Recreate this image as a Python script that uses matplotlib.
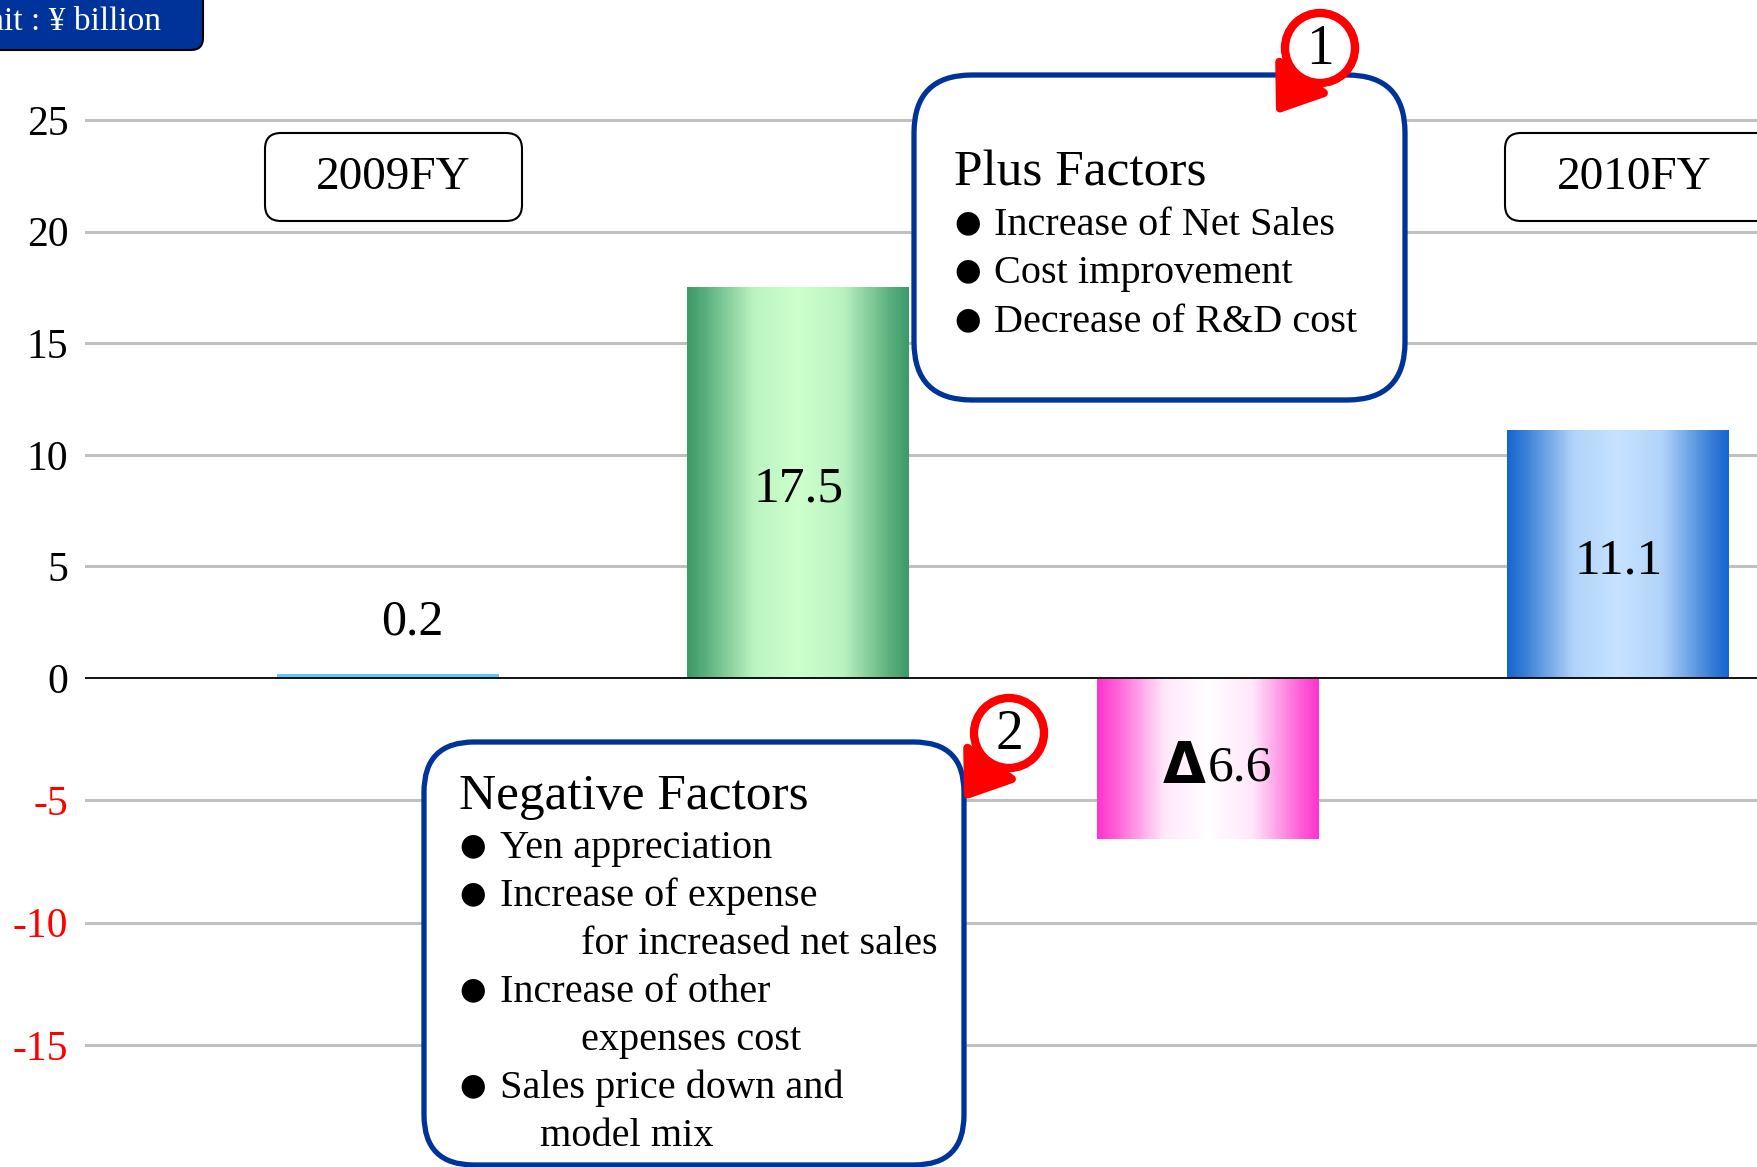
import numpy as np
import matplotlib
matplotlib.use('Agg')
import matplotlib.pyplot as plt
from matplotlib.patches import FancyBboxPatch, Circle

plt.rcParams['font.family'] = ['Liberation Serif', 'DejaVu Sans']

# data
categories = ["2009FY", "Plus Factors", "Negative Factors", "2010FY"]
values = [0.2, 17.5, -6.6, 11.1]
yticks = [-15, -10, -5, 0, 5, 10, 15, 20, 25]
plus_items = ["Increase of Net Sales", "Cost improvement", "Decrease of R&D cost"]
negative_lines = [
    ("●", "Yen appreciation"),
    ("●", "Increase of expense"),
    ("", "for increased net sales"),
    ("●", "Increase of other"),
    ("", "expenses cost"),
    ("●", "Sales price down and"),
    ("", "model mix"),
]

# bar fills: (edge colour, centre colour) -- None means flat
fills = [("#5EC8F8", None), ("#3A9A68", "#CCFFCC"), ("#FF33CC", "#FFFFFF"), ("#1565CC", "#C6E2FF")]

# the negative half of the original axis is drawn a little taller
NEG = 1.096


def fwd(v):
    v = np.asarray(v, dtype=float)
    return np.where(v < 0, v * NEG, v)


def inv(u):
    u = np.asarray(u, dtype=float)
    return np.where(u < 0, u / NEG, u)


W, H = 1758, 1167
fig = plt.figure(figsize=(W / 100, H / 100), dpi=100)
ax = fig.add_axes([85 / W, 0, 1 - 85 / W, 1])
ax.set_yscale('function', functions=(fwd, inv))

for y in yticks:
    if y != 0:
        ax.axhline(y, color='#C0C0C0', lw=2.2, zorder=0)
ax.axhline(0, color='black', lw=1.3, zorder=4)


def hex2rgb(h):
    return np.array([int(h[i:i + 2], 16) for i in (1, 3, 5)]) / 255.0


x = np.arange(len(values))
width = 0.54
nslice = 120
for xi, v, (edge, centre) in zip(x, values, fills):
    if centre is None:
        ax.bar(xi, v, width=width, color=edge, edgecolor='none', zorder=2)
        continue
    t = (np.arange(nslice) + 0.5) / nslice
    mix = np.interp(t, [0, 0.08, 0.3, 0.5, 0.7, 0.92, 1], [0, 0.2, 0.88, 1, 0.88, 0.2, 0])
    c0, c1 = hex2rgb(edge), hex2rgb(centre)
    cols = c0[None, :] * (1 - mix[:, None]) + c1[None, :] * mix[:, None]
    left = xi - width / 2 + t * width
    ax.bar(left, np.full(nslice, v), width=width / nslice * 1.05, color=cols,
           edgecolor='none', linewidth=0, zorder=2)

for xi, v in zip(x, values):
    if abs(v) < 2:
        ax.annotate(f"{v:.1f}", (xi + 0.06, v), xytext=(0, 28), textcoords='offset points',
                    ha='center', va='baseline', fontsize=36, zorder=5)
    elif v > 0:
        ax.annotate(f"{v:.1f}", (xi, v / 2), xytext=(0, -5), textcoords='offset points',
                    ha='center', va='center', fontsize=37, zorder=5)
    else:
        ax.annotate("Δ", (xi, v / 2), xytext=(-2, -7), textcoords='offset points',
                    ha='right', va='center', fontsize=40, family='DejaVu Sans',
                    weight='bold', zorder=5)
        ax.annotate(f"{-v:.1f}", (xi, v / 2), xytext=(0, -7), textcoords='offset points',
                    ha='left', va='center', fontsize=37, zorder=5)

ax.set_xlim(-0.739, 3.341)
ax.set_ylim(-19.99, 30.38)
ax.set_yticks(yticks)
ax.set_yticklabels([str(t) for t in yticks], fontsize=30)
ax.minorticks_off()
for lab, t in zip(ax.get_yticklabels(), yticks):
    lab.set_color('red' if t < 0 else 'black')
ax.tick_params(axis='y', length=0, pad=12)
ax.set_xticks([])
for s in ax.spines.values():
    s.set_visible(False)

# overlay in pixel coordinates for the callout boxes
ov = fig.add_axes([0, 0, 1, 1])
ov.set_xlim(0, W)
ov.set_ylim(H, 0)
ov.axis('off')
ov.patch.set_alpha(0)

# unit box
ov.add_patch(FancyBboxPatch((-30, -30), 233, 80, boxstyle='round,pad=0,rounding_size=12',
                            fc='#003399', ec='black', lw=1.5))
ov.text(161, 30, "Unit : ¥ billion", ha='right', va='baseline', color='white', fontsize=24)

# year boxes
for (bx, bw, tx), name in zip([(265, 257, 393), (1505, 300, 1634)], [categories[0], categories[3]]):
    ov.add_patch(FancyBboxPatch((bx, 133), bw, 88, boxstyle='round,pad=0,rounding_size=16',
                                fc='white', ec='black', lw=1.5))
    ov.text(tx, 178, name, ha='center', va='center', fontsize=34)

# plus factors box
ov.add_patch(FancyBboxPatch((914, 75), 491, 325, boxstyle='round,pad=0,rounding_size=58',
                            fc='white', ec='#003399', lw=3.8))
ov.text(954, 185, categories[1], ha='left', va='baseline', fontsize=37)
for i, item in enumerate(plus_items):
    yb = 235 + i * 48.5
    ov.text(954, yb - 4, "●", ha='left', va='baseline', fontsize=22, family='DejaVu Sans')
    ov.text(994, yb, item, ha='left', va='baseline', fontsize=29)

# negative factors box
ov.add_patch(FancyBboxPatch((424, 742), 540, 423, boxstyle='round,pad=0,rounding_size=50',
                            fc='white', ec='#003399', lw=3.8))
ov.text(459, 809, categories[2], ha='left', va='baseline', fontsize=37)
indent = {"for increased net sales": 581, "expenses cost": 581, "model mix": 540}
for i, (bul, txt) in enumerate(negative_lines):
    yb = 858 + i * 48
    if bul:
        ov.text(459, yb - 4, bul, ha='left', va='baseline', fontsize=22, family='DejaVu Sans')
        ov.text(500, yb, txt, ha='left', va='baseline', fontsize=29)
    else:
        ov.text(indent[txt], yb, txt, ha='left', va='baseline', fontsize=29)

# numbered red markers with arrows
for (cx, cy), tip, start, num in [((1320, 48), (1276, 114), (1304, 74), "1"),
                                  ((1009, 733), (964, 800), (992, 760), "2")]:
    ov.annotate('', xy=tip, xytext=start,
                arrowprops=dict(arrowstyle='-|>,head_length=0.9,head_width=0.65', color='red',
                                lw=6, mutation_scale=30, shrinkA=0, shrinkB=0))
    ov.add_patch(Circle((cx, cy), 35, fc='white', ec='red', lw=6, zorder=5))
    ov.text(cx, cy + 2, num, ha='center', va='center', fontsize=40, zorder=6)

fig.savefig('out.png', dpi=100)
